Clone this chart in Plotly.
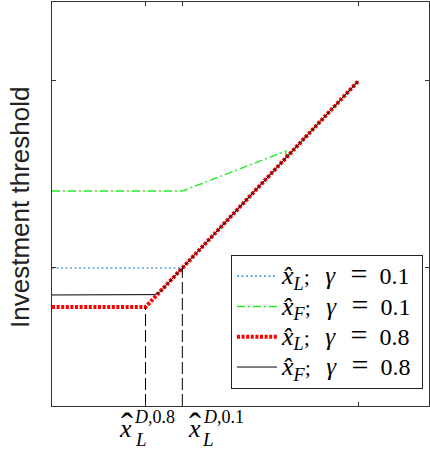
import plotly.graph_objects as go

# ---- data (normalised units) ----
x_L01 = [0, 0.3466, 0.8148]
y_L01 = [0.3416, 0.3416, 0.8045]
x_F01 = [0, 0.3466, 0.6217, 0.6217, 0.8148]
y_F01 = [0.532, 0.532, 0.631, 0.614, 0.8045]
x_L08 = [0, 0.2487, 0.2857, 0.8148]
y_L08 = [0.245, 0.245, 0.2814, 0.8045]
x_F08 = [0, 0.26, 0.272, 0.28, 0.2857, 0.8148]
y_F08 = [0.2748, 0.2748, 0.2757, 0.2782, 0.2814, 0.8045]

series_sub = ["L", "F", "L", "F"]
series_gamma = ["0.1", "0.1", "0.8", "0.8"]


def legend_label(sub, g):
    return ("<span style=\"font-size:26px\"><i>x̂</i><sub><i>" + sub + "</i></sub></span>"
            "<span style=\"font-size:22px\">;\u2002\u2009</span>"
            "<span style=\"font-size:25px\"><i>γ</i></span>"
            "<span style=\"font-size:22px\">\u2002\u2009</span>"
            "<span style=\"font-size:30px\">=</span>"
            "<span style=\"font-size:24px\">\u2002" + g + "\u2009</span>")


series_names = [legend_label(s, g) for s, g in zip(series_sub, series_gamma)]

x_tickvals = [0.2487, 0.3466, 0.8148]
y_tickvals = [0.3416, 0.8045]
xD_vals = [0.2487, 0.3466]
xD_top = [0.245, 0.3416]
xD_sup = ["<i>D</i>,0.8", "<i>D</i>,0.1"]

MATH = "Liberation Serif"

fig = go.Figure()
fig.add_trace(go.Scatter(x=x_L01, y=y_L01, mode="lines", name=series_names[0],
                         line=dict(color="#4fa3e0", width=1.6, dash="2px,2.5px")))
fig.add_trace(go.Scatter(x=x_F01, y=y_F01, mode="lines", name=series_names[1],
                         line=dict(color="#22ee22", width=1.4, dash="8px,3px,2px,3px")))
fig.add_trace(go.Scatter(x=x_L08, y=y_L08, mode="lines", name=series_names[2],
                         line=dict(color="#ff0000", width=4, dash="3px,1.6px")))
fig.add_trace(go.Scatter(x=x_F08, y=y_F08, mode="lines", name=series_names[3],
                         line=dict(color="#000000", width=1)))

# vertical dashed guide lines
for xv, yt in zip(xD_vals, xD_top):
    fig.add_trace(go.Scatter(x=[xv, xv], y=[0, yt], mode="lines", showlegend=False,
                             line=dict(color="#000000", width=1, dash="12px,4px")))

# tick labels as annotations (hat, x, subscript L, superscript)
offsets = [(-20, -5, 9), (12, 26, 41)]
ann = []
for xv, sup, (o_hat, o_sub, o_sup) in zip(xD_vals, xD_sup, offsets):
    ann.append(dict(x=xv, xref="x", y=-0.0495, yref="paper", text="ˆ", showarrow=False,
                    xshift=o_hat + 1, xanchor="center", yanchor="middle",
                    font=dict(family=MATH, size=36, color="#000")))
    ann.append(dict(x=xv, xref="x", y=-0.055, yref="paper", text="<i>x</i>", showarrow=False,
                    xshift=o_hat, xanchor="center", yanchor="middle",
                    font=dict(family=MATH, size=26, color="#000")))
    ann.append(dict(x=xv, xref="x", y=-0.082, yref="paper", text="<i>L</i>", showarrow=False,
                    xshift=o_sub, xanchor="center", yanchor="middle",
                    font=dict(family=MATH, size=19, color="#000")))
    ann.append(dict(x=xv, xref="x", y=-0.027, yref="paper", text=sup, showarrow=False,
                    xshift=o_sup, xanchor="center", yanchor="middle",
                    font=dict(family=MATH, size=18, color="#000")))

ann.append(dict(x=-0.085, xref="paper", y=0.4926, yref="paper", text="Investment threshold",
                textangle=-90, showarrow=False, xanchor="center", yanchor="middle",
                font=dict(family="Liberation Sans", size=26, color="#222")))

axis_common = dict(showline=True, linecolor="#333", linewidth=1, mirror="ticks",
                   ticks="inside", ticklen=4, tickcolor="#333", showgrid=False,
                   zeroline=False, showticklabels=False)

fig.update_layout(
    width=430, height=450,
    margin=dict(l=52, r=1, t=2, b=44),
    paper_bgcolor="white", plot_bgcolor="white",
    xaxis=dict(range=[0, 1.0027], tickvals=x_tickvals, **axis_common),
    yaxis=dict(range=[0, 1], tickvals=y_tickvals, **axis_common),
    annotations=ann,
    legend=dict(x=0.4748, y=0.3738, xanchor="left", yanchor="top",
                bordercolor="#222", borderwidth=1, bgcolor="white",
                font=dict(family=MATH, size=21, color="#000"),
                itemwidth=40, tracegroupgap=0),
    showlegend=True,
)

fig.write_html("out.html", config={"displayModeBar": False},
               post_script="document.body.style.margin='0';")
